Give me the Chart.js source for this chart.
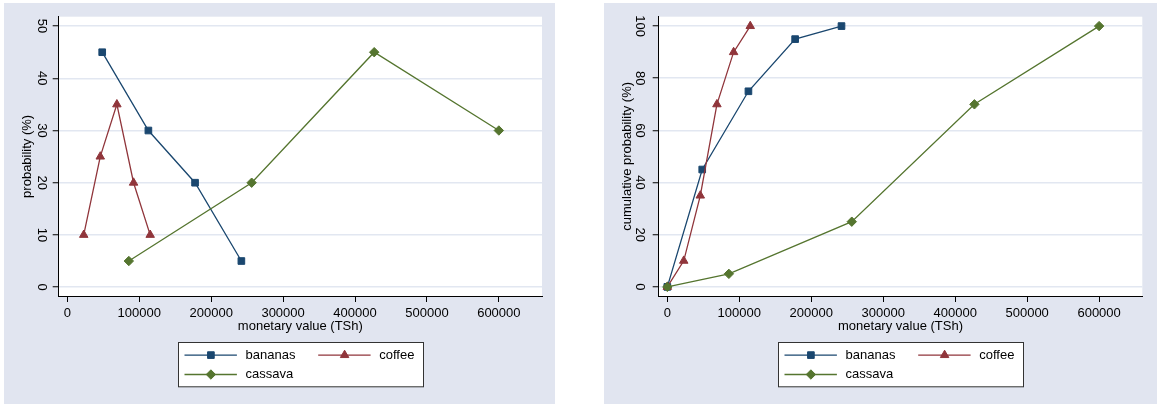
<!DOCTYPE html>
<html>
<head>
<meta charset="utf-8">
<script src="https://cdn.jsdelivr.net/npm/chart.js@4"></script>
<style>
  html, body { margin: 0; padding: 0; background: #ffffff; }
  body { width: 1157px; height: 404px; position: relative; overflow: hidden; }
  canvas { position: absolute; }
  #left { left: 4px; top: 3px; }
  #right { left: 604px; top: 3px; }
</style>
</head>
<body>
<canvas id="left" width="551" height="401" style="width:551px;height:401px"></canvas>
<canvas id="right" width="553" height="401" style="width:553px;height:401px"></canvas>
<script>
// ---------- data ----------
const seriesNames = ['bananas', 'coffee', 'cassava'];

const bananaValue = [48500, 112700, 177600, 242000];
const bananaProb  = [45, 30, 20, 5];
const coffeeValue = [22800, 45800, 68900, 92100, 115200];
const coffeeProb  = [10, 25, 35, 20, 10];
const cassavaValue = [85500, 256300, 426700, 600000];
const cassavaProb  = [5, 20, 45, 30];

const bananaCumValue  = [0, 48500, 112700, 177600, 242000];
const bananaCum       = [0, 45, 75, 95, 100];
const coffeeCumValue  = [0, 22800, 45800, 68900, 92100, 115200];
const coffeeCum       = [0, 10, 35, 70, 90, 100];
const cassavaCumValue = [0, 85500, 256300, 426700, 600000];
const cassavaCum      = [0, 5, 25, 70, 100];

const xTicks     = [0, 100000, 200000, 300000, 400000, 500000, 600000];
const yTicksProb = [0, 10, 20, 30, 40, 50];
const yTicksCum  = [0, 20, 40, 60, 80, 100];

const xTitle = 'monetary value (TSh)';
const yTitleProb = 'probability (%)';
const yTitleCum = 'cumulative probability (%)';

// ---------- styles ----------
const FONT = "'Liberation Sans', Arial, Helvetica, sans-serif";
const BG = '#e1e5f0';
const GRID = '#e2e7f1';
const colors = ['rgb(26,71,111)', 'rgb(144,53,59)', 'rgb(85,117,47)'];
const styles = ['rect', 'triangle', 'rectRot'];
const radii = [4.7, 4.9, 4.7];

function pts(xs, ys) { return xs.map((x, i) => ({ x: x, y: ys[i] })); }

function makeDatasets(pairs) {
  return pairs.map((p, i) => ({
    label: seriesNames[i],
    data: pts(p[0], p[1]),
    borderColor: colors[i],
    backgroundColor: colors[i],
    pointBackgroundColor: colors[i],
    pointBorderColor: colors[i],
    pointBorderWidth: 1,
    pointStyle: styles[i],
    pointRadius: radii[i],
    pointHoverRadius: radii[i],
    borderWidth: 1.3,
    tension: 0,
    showLine: true,
    fill: false,
    order: 3 - i
  }));
}

function drawMarker(ctx, style, x, y, r) {
  ctx.beginPath();
  if (style === 'rect') {
    const s = Math.SQRT1_2 * r;
    ctx.rect(x - s, y - s, 2 * s, 2 * s);
  } else if (style === 'triangle') {
    const a = 2 * Math.PI / 3;
    ctx.moveTo(x, y - r);
    ctx.lineTo(x + Math.sin(a) * r, y - Math.cos(a) * r);
    ctx.lineTo(x + Math.sin(2 * a) * r, y - Math.cos(2 * a) * r);
    ctx.closePath();
  } else {
    ctx.moveTo(x, y - r);
    ctx.lineTo(x + r, y);
    ctx.lineTo(x, y + r);
    ctx.lineTo(x - r, y);
    ctx.closePath();
  }
  ctx.fill();
  ctx.stroke();
}

const bgPlugin = {
  id: 'panelBg',
  beforeDraw(chart) {
    const ctx = chart.ctx, ca = chart.chartArea;
    ctx.save();
    ctx.fillStyle = BG;
    ctx.fillRect(0, 0, chart.width, chart.height);
    ctx.fillStyle = '#ffffff';
    ctx.fillRect(ca.left, ca.top, ca.right - ca.left, ca.bottom - ca.top);
    ctx.restore();
  }
};

const legendPlugin = {
  id: 'stataLegend',
  afterDraw(chart) {
    const ctx = chart.ctx, ca = chart.chartArea;
    const cx = (ca.left + ca.right) / 2;
    const bw = 245, bh = 44.3;
    const bx = Math.round(cx - bw / 2) + 0.5, by = Math.round(ca.bottom + 45.7) + 0.5;
    ctx.save();
    ctx.fillStyle = '#ffffff';
    ctx.strokeStyle = '#333333';
    ctx.lineWidth = 1;
    ctx.fillRect(bx, by, bw, bh);
    ctx.strokeRect(bx, by, bw, bh);
    const rowY = [12.6, 32];
    const colX = [6, 139.7];
    chart.data.datasets.forEach((ds, i) => {
      const col = i % 2, row = Math.floor(i / 2);
      const x0 = bx + colX[col], y = by + rowY[row];
      ctx.strokeStyle = ds.borderColor;
      ctx.lineWidth = ds.borderWidth;
      ctx.beginPath();
      ctx.moveTo(x0, y);
      ctx.lineTo(x0 + 52.4, y);
      ctx.stroke();
      ctx.fillStyle = ds.borderColor;
      ctx.lineWidth = 1;
      drawMarker(ctx, ds.pointStyle, x0 + 26.4, y, ds.pointRadius);
      ctx.fillStyle = '#000000';
      ctx.font = '13px ' + FONT;
      ctx.textAlign = 'left';
      ctx.textBaseline = 'middle';
      ctx.fillText(ds.label, x0 + 61, y);
    });
    ctx.restore();
  }
};

function makeChart(id, datasets, yMin, yMax, yTicks, yTitle, yPad, rightPad) {
  return new Chart(document.getElementById(id), {
    type: 'scatter',
    data: { datasets: datasets },
    plugins: [bgPlugin, legendPlugin],
    options: {
      responsive: false,
      animation: false,
      devicePixelRatio: 1,
      layout: { padding: { left: 0, right: rightPad, top: 13.7, bottom: 70.2 } },
      plugins: { legend: { display: false }, tooltip: { enabled: false } },
      scales: {
        x: {
          type: 'linear',
          position: 'bottom',
          min: -12000,
          max: 660000,
          afterBuildTicks: (s) => { s.ticks = xTicks.map(v => ({ value: v })); },
          afterFit: (s) => { s.height = 37.8; },
          grid: { display: true, drawOnChartArea: false, drawTicks: true, tickLength: 6, tickColor: '#000000', tickWidth: 1 },
          border: { display: true, color: '#000000', width: 1 },
          ticks: { autoSkip: false, maxRotation: 0, minRotation: 0, padding: 3.5, color: '#000000',
                   font: { family: FONT, size: 13 }, callback: (v) => String(v) },
          title: { display: true, text: xTitle, color: '#000000', font: { family: FONT, size: 13 }, padding: { top: 0, bottom: 0 } }
        },
        y: {
          type: 'linear',
          position: 'left',
          min: yMin,
          max: yMax,
          afterBuildTicks: (s) => { s.ticks = yTicks.map(v => ({ value: v })); },
          afterCalculateLabelRotation: (s) => { s.labelRotation = -90; },
          afterFit: (s) => { s.width = 54.7; },
          grid: { display: true, drawOnChartArea: true, color: GRID, lineWidth: 1.5, drawTicks: true, tickLength: 6, tickColor: '#000000', tickWidth: 1 },
          border: { display: true, color: '#000000', width: 1 },
          ticks: { autoSkip: false, crossAlign: 'center', padding: yPad, color: '#000000',
                   font: { family: FONT, size: 13 }, callback: (v) => String(v) },
          title: { display: true, text: yTitle, color: '#000000', font: { family: FONT, size: 13 }, padding: { top: 16, bottom: 0 } }
        }
      }
    }
  });
}

makeChart('left',
  makeDatasets([[bananaValue, bananaProb], [coffeeValue, coffeeProb], [cassavaValue, cassavaProb]]),
  -1.7, 51.8, yTicksProb, yTitleProb, 3.8, 13);

makeChart('right',
  makeDatasets([[bananaCumValue, bananaCum], [coffeeCumValue, coffeeCum], [cassavaCumValue, cassavaCum]]),
  -3.5, 103.6, yTicksCum, yTitleCum, 1.9, 14.7);
</script>
</body>
</html>
